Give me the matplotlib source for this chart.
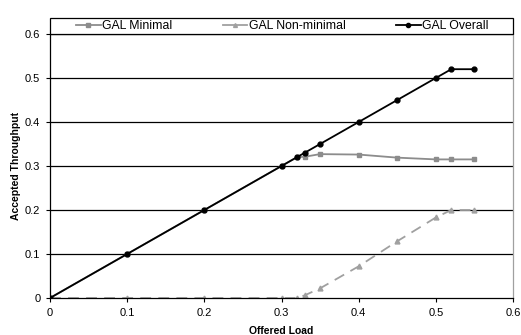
import matplotlib
matplotlib.use("Agg")
import matplotlib.pyplot as plt
from matplotlib.patches import Rectangle
from matplotlib.lines import Line2D

plt.rcParams['font.family'] = ['Liberation Sans', 'DejaVu Sans']

load = [0, 0.1, 0.2, 0.3, 0.32, 0.33, 0.35, 0.4, 0.45, 0.5, 0.52, 0.55]
minimal = [0, 0.1, 0.2, 0.3, 0.32, 0.321, 0.327, 0.326, 0.319, 0.315, 0.315, 0.315]
nonminimal = [0, 0, 0, 0, 0, 0.006, 0.022, 0.072, 0.129, 0.183, 0.2, 0.2]
overall = [0, 0.1, 0.2, 0.3, 0.32, 0.33, 0.35, 0.4, 0.45, 0.5, 0.52, 0.52]
xticks = [0, 0.1, 0.2, 0.3, 0.4, 0.5, 0.6]
yticks = [0, 0.1, 0.2, 0.3, 0.4, 0.5, 0.6]
labels = ['GAL Minimal', 'GAL Non-minimal', 'GAL Overall']

fig = plt.figure(figsize=(5.21, 3.35), dpi=100)
ax = fig.add_axes([50/521, 1-298/335, 463/521, 264/335])

ax.set_xlim(0, 0.6)
ax.set_ylim(0, 0.6)
for y in yticks[1:]:
    ax.axhline(y, color='black', lw=0.9, zorder=1)

c_min, c_non = '#8c8c8c', '#a0a0a0'
ax.plot(load, minimal, color=c_min, marker='s', ms=3.3, lw=1.3, zorder=3)
ax.plot(load, nonminimal, color=c_non, marker='^', ms=3.5, lw=1.3,
        dashes=(6, 4), zorder=2)
ax.plot(load, overall, color='black', marker='o', ms=3.5, lw=1.3, zorder=4)

ax.set_xticks(xticks)
ax.set_xticklabels([f'{v:g}' for v in xticks])
ax.set_yticks(yticks)
ax.set_yticklabels([f'{v:g}' for v in yticks])
ax.tick_params(axis='both', labelsize=8, direction='out', length=3, width=0.8,
               pad=4)
ax.spines['top'].set_visible(False)
ax.spines['right'].set_color('#a0a0a0')
ax.spines['left'].set_color('black')
ax.spines['bottom'].set_color('black')
for s in ax.spines.values():
    s.set_linewidth(0.9)

ax.set_xlabel('Offered Load', fontsize=7.5, fontweight='bold', labelpad=6)
ax.set_ylabel('Accepted Throughput', fontsize=7.5, fontweight='bold', labelpad=3)

# legend box above plot
fig.patches.append(Rectangle((50/521, 1-34/335), 463/521, 16/335,
                             transform=fig.transFigure, fill=False,
                             edgecolor='black', lw=0.9))
handles = [
    Line2D([], [], color=c_min, marker='s', ms=2.8, lw=1.3),
    Line2D([], [], color=c_non, marker='^', ms=2.8, lw=1.3),
    Line2D([], [], color='black', marker='o', ms=3, lw=1.3),
]
fig.legend(handles=handles, labels=labels, loc='center', ncol=3,
           bbox_to_anchor=(282.5/521, 1-26/335), frameon=False, fontsize=8.8,
           handlelength=2.0, handletextpad=0.15, columnspacing=4.1,
           borderpad=0, borderaxespad=0)

fig.savefig('out.png', dpi=100)
